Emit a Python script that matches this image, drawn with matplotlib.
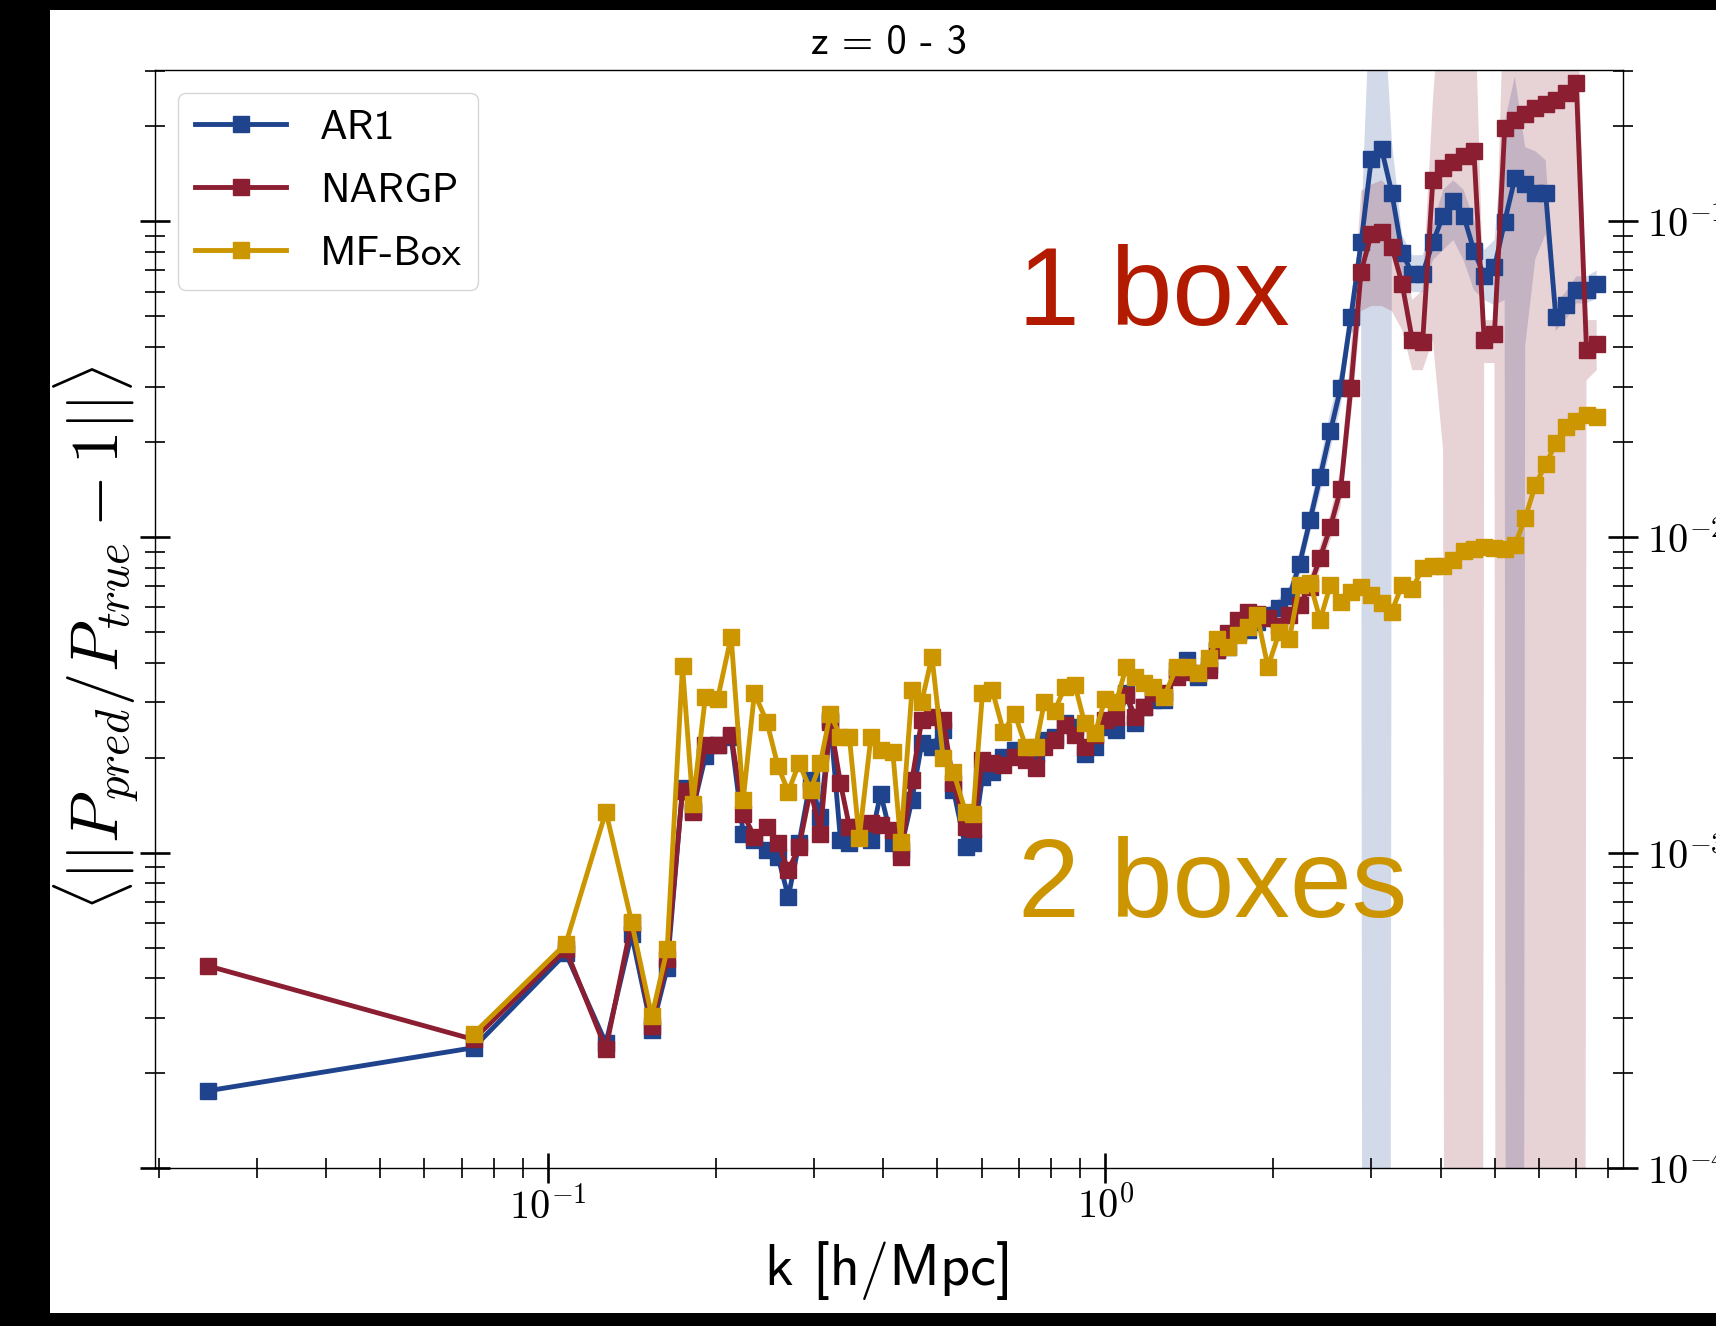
import numpy as np
import matplotlib
matplotlib.use('Agg')
import matplotlib.pyplot as plt
from matplotlib.patches import Rectangle
from matplotlib.ticker import FuncFormatter, NullFormatter

plt.rcParams['mathtext.fontset'] = 'cm'

# k bins [h/Mpc]
k = [0.0245, 0.0735, 0.1076, 0.1270, 0.1412, 0.1535, 0.1636, 0.1743, 0.1819, 0.1916,
     0.2016, 0.2131, 0.2240, 0.2346, 0.2470, 0.2586, 0.2699, 0.2821, 0.2959, 0.3081,
     0.3210, 0.3348, 0.3474, 0.3618, 0.3797, 0.3953, 0.4156, 0.4295, 0.4499, 0.4685,
     0.4887, 0.5120, 0.5341, 0.5614, 0.5792, 0.6022, 0.6271, 0.6568, 0.6876, 0.7203,
     0.7499, 0.7780, 0.8119, 0.8472, 0.8822, 0.9188, 0.9587, 1.0004, 1.0474, 1.0907,
     1.1322, 1.1745, 1.2185, 1.2747, 1.3439, 1.3996, 1.4659, 1.5346, 1.5867, 1.6584,
     1.7300, 1.8030, 1.8736, 1.9592, 2.0549, 2.1418, 2.2336, 2.3310, 2.4314, 2.5373,
     2.6467, 2.7608, 2.8797, 3.0038, 3.1344, 3.2694, 3.4119, 3.5589, 3.7136, 3.8735,
     4.0414, 4.2170, 4.3989, 4.5905, 4.7884, 4.9967, 5.2119, 5.4362, 5.6728, 5.9156,
     6.1730, 6.4389, 6.7194, 7.0089, 7.3102, 7.6245]

ar1 = [1.76e-4, 2.41e-4, 4.80e-4, 2.49e-4, 5.52e-4, 2.75e-4, 4.30e-4, 1.60e-3, 1.37e-3, 2.02e-3,
       2.20e-3, 2.33e-3, 1.15e-3, 1.10e-3, 1.02e-3, 9.71e-4, 7.25e-4, 1.07e-3, 1.70e-3, 1.30e-3,
       2.63e-3, 1.10e-3, 1.07e-3, 1.12e-3, 1.10e-3, 1.54e-3, 1.07e-3, 1.02e-3, 1.47e-3, 2.22e-3,
       2.17e-3, 2.45e-3, 1.58e-3, 1.04e-3, 1.07e-3, 1.74e-3, 1.80e-3, 2.01e-3, 2.11e-3, 2.01e-3,
       2.06e-3, 2.27e-3, 2.33e-3, 2.57e-3, 2.51e-3, 2.06e-3, 2.17e-3, 2.51e-3, 2.45e-3, 3.20e-3,
       2.57e-3, 2.90e-3, 3.04e-3, 3.04e-3, 3.79e-3, 4.08e-3, 3.61e-3, 3.93e-3, 4.39e-3, 4.49e-3,
       4.95e-3, 5.07e-3, 5.38e-3, 5.66e-3, 5.96e-3, 6.50e-3, 8.23e-3, 1.13e-2, 1.553e-2, 2.166e-2,
       2.976e-2, 4.98e-2, 8.58e-2, 0.158, 0.1695, 0.1233, 0.0795, 0.0684, 0.0684, 0.0858,
       0.1044, 0.1161, 0.1044, 0.0808, 0.0674, 0.0716, 0.0998, 0.137, 0.131, 0.1233,
       0.1233, 0.0498, 0.0545, 0.0606, 0.0606, 0.0634]

nargp = [4.38e-4, 2.56e-4, 4.94e-4, 2.39e-4, 6.00e-4, 2.83e-4, 4.60e-4, 1.57e-3, 1.35e-3, 2.20e-3,
         2.20e-3, 2.36e-3, 1.33e-3, 1.12e-3, 1.21e-3, 1.07e-3, 8.81e-4, 1.04e-3, 1.58e-3, 1.15e-3,
         2.60e-3, 1.66e-3, 1.21e-3, 1.21e-3, 1.24e-3, 1.22e-3, 1.18e-3, 9.71e-4, 1.70e-3, 2.63e-3,
         2.70e-3, 2.63e-3, 1.66e-3, 1.21e-3, 1.19e-3, 1.97e-3, 1.92e-3, 1.90e-3, 2.01e-3, 1.97e-3,
         1.85e-3, 2.17e-3, 2.27e-3, 2.54e-3, 2.36e-3, 2.17e-3, 2.36e-3, 2.63e-3, 2.70e-3, 3.16e-3,
         2.70e-3, 2.90e-3, 3.20e-3, 3.20e-3, 3.61e-3, 3.74e-3, 3.70e-3, 3.79e-3, 4.39e-3, 4.95e-3,
         5.46e-3, 5.80e-3, 5.70e-3, 5.54e-3, 5.22e-3, 5.66e-3, 6.09e-3, 6.97e-3, 8.61e-3, 1.08e-2,
         1.418e-2, 2.976e-2, 0.0694, 0.0912, 0.0925, 0.0832, 0.0634, 0.0421, 0.0415, 0.1351,
         0.1479, 0.1547, 0.1618, 0.1669, 0.0421, 0.0441, 0.1971, 0.2094, 0.2191, 0.2292,
         0.2363, 0.2435, 0.2548, 0.2749, 0.0391, 0.0409]

mfbox = [np.nan, 2.67e-4, 5.15e-4, 1.35e-3, 6.05e-4, 3.03e-4, 4.94e-4, 3.90e-3, 1.43e-3, 3.12e-3,
         3.08e-3, 4.84e-3, 1.47e-3, 3.20e-3, 2.60e-3, 1.88e-3, 1.56e-3, 1.92e-3, 1.58e-3, 1.92e-3,
         2.76e-3, 2.33e-3, 2.33e-3, 1.11e-3, 2.32e-3, 2.11e-3, 2.09e-3, 1.08e-3, 3.27e-3, 3.01e-3,
         4.18e-3, 1.99e-3, 1.80e-3, 1.35e-3, 1.33e-3, 3.20e-3, 3.27e-3, 2.42e-3, 2.76e-3, 2.17e-3,
         2.16e-3, 3.01e-3, 2.82e-3, 3.36e-3, 3.40e-3, 2.57e-3, 2.39e-3, 3.08e-3, 3.01e-3, 3.88e-3,
         3.61e-3, 3.44e-3, 3.36e-3, 3.12e-3, 3.87e-3, 3.87e-3, 3.70e-3, 4.13e-3, 4.74e-3, 4.49e-3,
         4.89e-3, 5.18e-3, 5.66e-3, 3.88e-3, 5.01e-3, 4.77e-3, 7.07e-3, 7.18e-3, 5.47e-3, 7.07e-3,
         6.22e-3, 6.71e-3, 6.97e-3, 6.56e-3, 6.17e-3, 5.81e-3, 7.07e-3, 6.86e-3, 7.98e-3, 8.09e-3,
         8.10e-3, 8.48e-3, 9.01e-3, 9.16e-3, 9.29e-3, 9.23e-3, 9.15e-3, 9.43e-3, 1.148e-2, 1.46e-2,
         1.70e-2, 1.98e-2, 2.23e-2, 2.34e-2, 2.44e-2, 2.41e-2]

# uncertainty bands, from bin 60 upward (lower bound 1e-30 = consistent with zero)
band_from = 60
ar1_lo = [4.7e-3, 4.8e-3, 5.1e-3, 5.3e-3, 5.6e-3, 6.0e-3, 7.5e-3, 1.02e-2, 1.38e-2, 1.9e-2,
          2.6e-2, 4.4e-2, 4.7e-2, 1e-30, 1e-30, 7.8e-2, 6.76e-2, 5.97e-2, 5.97e-2, 7.54e-2,
          8.12e-2, 8.73e-2, 7.54e-2, 6.06e-2, 5.64e-2, 5.43e-2, 5.64e-2, 1e-30, 4.03e-2, 7.6e-2,
          9.12e-2, 4.5e-2, 4.9e-2, 5.5e-2, 5.5e-2, 5.7e-2]
ar1_hi = [5.2e-3, 5.4e-3, 5.7e-3, 6.0e-3, 6.4e-3, 7.0e-3, 9.0e-3, 1.25e-2, 1.75e-2, 2.5e-2,
          3.4e-2, 5.7e-2, 9.6e-2, 0.65, 0.65, 0.18, 9.06e-2, 7.82e-2, 7.82e-2, 9.74e-2,
          0.126, 0.135, 0.126, 0.101, 8.12e-2, 8.73e-2, 0.2065, 0.288, 0.172, 0.167,
          0.1565, 5.5e-2, 6.0e-2, 6.7e-2, 6.7e-2, 7.0e-2]
nargp_lo = [5.2e-3, 5.5e-3, 5.4e-3, 5.2e-3, 4.9e-3, 5.3e-3, 5.7e-3, 6.5e-3, 7.9e-3, 9.8e-3,
            1.25e-2, 2.4e-2, 5.2e-2, 5.4e-2, 5.4e-2, 5.2e-2, 4.53e-2, 3.38e-2, 3.38e-2, 4.21e-2,
            1.89e-2, 1e-30, 1e-30, 1e-30, 3.56e-2, 3.56e-2, 1e-30, 1e-30, 1e-30, 1e-30,
            1e-30, 1e-30, 1e-30, 1e-30, 3.14e-2, 3.38e-2]
nargp_hi = [5.75e-3, 6.1e-3, 6.0e-3, 5.9e-3, 5.6e-3, 6.05e-3, 6.5e-3, 7.5e-3, 9.4e-3, 1.19e-2,
            1.65e-2, 4.0e-2, 0.125, 0.131, 0.135, 0.126, 8.12e-2, 5.64e-2, 6.06e-2, 0.241,
            0.65, 0.65, 0.65, 0.65, 4.87e-2, 4.87e-2, 0.65, 0.65, 0.65, 0.65,
            0.65, 0.65, 0.65, 0.65, 4.87e-2, 4.87e-2]

c_ar1 = '#1f438c'
c_nargp = '#8b1f31'
c_mf = '#cc9600'

W, H = 1716, 1326
fig = plt.figure(figsize=(W / 100, H / 100), dpi=100, facecolor='black')
fig.add_artist(Rectangle((50 / W, 13 / H), 1 - 50 / W, (H - 23) / H,
                         transform=fig.transFigure, facecolor='white',
                         edgecolor='none', zorder=-1))
ax = fig.add_axes([155 / W, 1 - 1168.3 / H, 1468 / W, 1098.3 / H])

kk = np.array(k)
ax.fill_between(kk[band_from:], ar1_lo, ar1_hi, color=c_ar1, alpha=0.2, lw=0)
ax.fill_between(kk[band_from:], nargp_lo, nargp_hi, color=c_nargp, alpha=0.2, lw=0)

ax.plot(kk, ar1, '-s', color=c_ar1, lw=3.5, ms=11.5, label='AR1')
ax.plot(kk, nargp, '-s', color=c_nargp, lw=3.5, ms=11.5, label='NARGP')
ax.plot(kk, mfbox, '-s', color=c_mf, lw=3.5, ms=11.5, label='MF-Box')

ax.set_xscale('log')
ax.set_yscale('log')
ax.set_xlim(0.0197, 8.5)
ax.set_ylim(1e-4, 0.302)

fmt = FuncFormatter(lambda v, p: r'$10^{%d}$' % int(round(np.log10(v))))
ax.xaxis.set_major_formatter(fmt)
ax.yaxis.set_major_formatter(fmt)
ax.xaxis.set_minor_formatter(NullFormatter())
ax.yaxis.set_minor_formatter(NullFormatter())

ax.tick_params(which='major', direction='inout', length=21, width=1.9, labelsize=29)
ax.tick_params(which='minor', direction='inout', length=14, width=1.2)
ax.tick_params(axis='y', which='both', left=True, right=True,
               labelleft=False, labelright=True, pad=7)
ax.tick_params(axis='x', which='both', bottom=True, top=False, pad=3)
for s in ax.spines.values():
    s.set_linewidth(1.0)

ax.legend(loc='upper left', bbox_to_anchor=(0.0157, 0.979), borderaxespad=0,
          prop={'family': 'cmss10', 'size': 30}, labelspacing=0.62,
          handlelength=2.2)

ax.text(0.588, 0.768, '1 box', transform=ax.transAxes, family='Liberation Sans',
        size=80, color='#b31b00', va='baseline')
ax.text(0.588, 0.229, '2 boxes', transform=ax.transAxes, family='Liberation Sans',
        size=80, color='#cc9500', va='baseline')

fig.text(889 / W, 1 - 44 / H, 'z = 0 - 3', ha='center', va='center',
         family='cmss10', size=29)
fig.text(889 / W, 1 - 1271 / H, 'k [h/Mpc]', ha='center', va='center',
         family='cmss10', size=42)
fig.text(96 / W, 1 - 639 / H, r'$\langle||P_{pred}/P_{true} - 1||\rangle$',
         rotation=90, ha='center', va='center', size=48)

fig.savefig('out.png', dpi=100)
